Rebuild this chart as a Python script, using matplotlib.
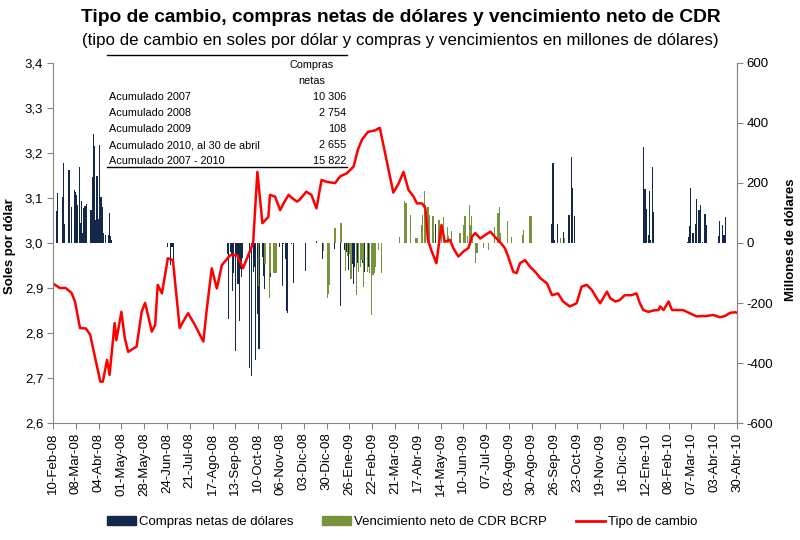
import pandas as pd
import matplotlib
matplotlib.use("Agg")
import matplotlib.pyplot as plt
import matplotlib.dates as mdates
from matplotlib.lines import Line2D
from matplotlib.patches import Patch
from matplotlib.ticker import FuncFormatter, FixedLocator

plt.rcParams['font.family'] = ['Liberation Sans', 'DejaVu Sans']
plt.rcParams['axes.unicode_minus'] = False

# Tipo de cambio (soles por dolar)
tc_fechas = [
    '2008-02-10', '2008-02-18', '2008-02-25', '2008-03-03', '2008-03-07', '2008-03-13',
    '2008-03-20', '2008-03-25', '2008-03-31', '2008-04-06', '2008-04-09', '2008-04-14',
    '2008-04-17', '2008-04-23', '2008-04-25', '2008-05-01', '2008-05-05', '2008-05-09',
    '2008-05-19', '2008-05-25', '2008-05-29', '2008-06-01', '2008-06-06', '2008-06-10',
    '2008-06-13', '2008-06-18', '2008-06-22', '2008-06-25', '2008-07-01', '2008-07-09',
    '2008-07-13', '2008-07-19', '2008-07-27', '2008-08-06', '2008-08-10', '2008-08-16',
    '2008-08-22', '2008-08-28', '2008-09-07', '2008-09-15', '2008-09-22', '2008-09-30',
    '2008-10-04', '2008-10-09', '2008-10-15', '2008-10-22', '2008-10-24', '2008-10-30',
    '2008-11-05', '2008-11-09', '2008-11-15', '2008-11-19', '2008-11-25', '2008-11-28',
    '2008-12-06', '2008-12-12', '2008-12-18', '2008-12-24', '2008-12-30', '2009-01-09',
    '2009-01-15', '2009-01-23', '2009-01-31', '2009-02-05', '2009-02-10', '2009-02-17',
    '2009-02-25', '2009-03-03', '2009-03-11', '2009-03-19', '2009-03-25', '2009-03-31',
    '2009-04-06', '2009-04-12', '2009-04-16', '2009-04-22', '2009-04-26', '2009-04-29',
    '2009-05-03', '2009-05-09', '2009-05-15', '2009-05-19', '2009-05-25', '2009-05-29',
    '2009-06-04', '2009-06-10', '2009-06-16', '2009-06-20', '2009-06-24', '2009-06-30',
    '2009-07-06', '2009-07-12', '2009-07-17', '2009-07-23', '2009-07-29', '2009-08-02',
    '2009-08-08', '2009-08-12', '2009-08-16', '2009-08-22', '2009-08-28', '2009-09-03',
    '2009-09-09', '2009-09-17', '2009-09-23', '2009-09-30', '2009-10-06', '2009-10-14',
    '2009-10-22', '2009-10-28', '2009-11-03', '2009-11-09', '2009-11-15', '2009-11-19',
    '2009-11-27', '2009-12-01', '2009-12-07', '2009-12-12', '2009-12-18', '2009-12-26',
    '2010-01-01', '2010-01-05', '2010-01-09', '2010-01-15', '2010-01-21', '2010-01-27',
    '2010-01-29', '2010-02-02', '2010-02-08', '2010-02-12', '2010-02-18', '2010-02-25',
    '2010-03-05', '2010-03-13', '2010-03-25', '2010-04-02', '2010-04-10', '2010-04-16',
    '2010-04-22', '2010-04-28', '2010-04-30',
]
tc_valores = [
    2.910, 2.900, 2.900, 2.889, 2.870, 2.811,
    2.810, 2.796, 2.744, 2.692, 2.692, 2.740,
    2.707, 2.822, 2.784, 2.847, 2.789, 2.758,
    2.770, 2.847, 2.867, 2.844, 2.803, 2.818,
    2.907, 2.888, 2.933, 2.966, 2.962, 2.811,
    2.825, 2.844, 2.818, 2.781, 2.851, 2.944,
    2.899, 2.951, 2.973, 2.973, 2.944, 2.981,
    3.000, 3.158, 3.044, 3.058, 3.107, 3.103,
    3.073, 3.088, 3.107, 3.100, 3.092, 3.096,
    3.114, 3.107, 3.077, 3.140, 3.136, 3.133,
    3.148, 3.155, 3.170, 3.207, 3.230, 3.247,
    3.250, 3.256, 3.184, 3.112, 3.131, 3.158,
    3.118, 3.103, 3.088, 3.088, 3.077, 3.007,
    2.984, 2.955, 3.040, 3.003, 3.007, 2.989,
    2.970, 2.981, 2.989, 3.014, 3.022, 3.010,
    3.018, 3.025, 3.014, 3.003, 2.989, 2.970,
    2.936, 2.933, 2.955, 2.962, 2.947, 2.936,
    2.922, 2.910, 2.884, 2.888, 2.870, 2.859,
    2.866, 2.903, 2.907, 2.896, 2.877, 2.866,
    2.892, 2.877, 2.870, 2.873, 2.884, 2.884,
    2.888, 2.866, 2.851, 2.847, 2.850, 2.851,
    2.859, 2.851, 2.870, 2.851, 2.851, 2.851,
    2.844, 2.837, 2.838, 2.840, 2.835, 2.838,
    2.845, 2.846, 2.845,
]

# Compras netas de dolares (millones US$)
compras_fechas = [
    '2008-02-14', '2008-02-15', '2008-02-21', '2008-02-22', '2008-02-23', '2008-02-28',
    '2008-02-29', '2008-03-01', '2008-03-03', '2008-03-06', '2008-03-07', '2008-03-09',
    '2008-03-10', '2008-03-12', '2008-03-13', '2008-03-15', '2008-03-16', '2008-03-17',
    '2008-03-19', '2008-03-21', '2008-03-26', '2008-03-28', '2008-03-29', '2008-03-30',
    '2008-04-01', '2008-04-02', '2008-04-04', '2008-04-05', '2008-04-06', '2008-04-07',
    '2008-04-08', '2008-04-10', '2008-04-12', '2008-04-16', '2008-04-17', '2008-04-18',
    '2008-04-19',
    '2008-06-25', '2008-06-28', '2008-06-30', '2008-07-02',
    '2008-09-04', '2008-09-05', '2008-09-07', '2008-09-08', '2008-09-10', '2008-09-11',
    '2008-09-13', '2008-09-14', '2008-09-16', '2008-09-18', '2008-09-19', '2008-09-20',
    '2008-09-21', '2008-09-30', '2008-10-02', '2008-10-04', '2008-10-05', '2008-10-07',
    '2008-10-09', '2008-10-10', '2008-10-11', '2008-10-15', '2008-10-16', '2008-10-17',
    '2008-10-25', '2008-10-29', '2008-11-04', '2008-11-08', '2008-11-09', '2008-11-12',
    '2008-11-13', '2008-11-14', '2008-11-18', '2008-11-21', '2008-12-05', '2008-12-18',
    '2008-12-25', '2009-01-08', '2009-01-15', '2009-01-20', '2009-01-23', '2009-01-25',
    '2009-01-29', '2009-01-31', '2009-02-01', '2009-02-04', '2009-02-11', '2009-02-13',
    '2009-02-18', '2009-02-24',
    '2009-05-08', '2009-09-23', '2009-09-24', '2009-09-26', '2009-09-29', '2009-10-07',
    '2009-10-13', '2009-10-14', '2009-10-16', '2009-10-17', '2009-10-20',
    '2010-01-09', '2010-01-11', '2010-01-12', '2010-01-13', '2010-01-15', '2010-01-16',
    '2010-01-18', '2010-01-20', '2010-01-21',
    '2010-03-03', '2010-03-04', '2010-03-05', '2010-03-06', '2010-03-09', '2010-03-12',
    '2010-03-13', '2010-03-16', '2010-03-18', '2010-03-20', '2010-03-23', '2010-03-25',
    '2010-04-08', '2010-04-09', '2010-04-13', '2010-04-14', '2010-04-15', '2010-04-16',
]
compras_valores = [
    108, 168, 154, 268, 63, 134,
    243, 227, 121, 177, 171, 160,
    127, 254, 66, 141, 32, 116,
    123, 130, 110, 219, 363, 323,
    77, 223, 79, 327, 154, 152,
    121, 32, 27, 27, 99, 23,
    10,
    -15, -75, -15, -110,
    -38, -254, -30, -40, -160, -99,
    -360, -43, -138, -260, -88, -115,
    -50, -416, -443, -98, -80, -390,
    -237, -270, -354, -48, -110, -155,
    -115, -93, -15, -143, -5, -55,
    -227, -232, -5, -132, -93, 5,
    -52, -20, -210, -25, -30, -90,
    -70, -138, -79, -68, -68, -96,
    -79, -90,
    63, 63, 266, 10, 63, 37,
    93, 73, 288, 182, 90,
    321, 180, 170, 113, 27, 173,
    10, 254, 104,
    4, 19, 57, 182, 34, 63,
    147, 110, 127, 4, 97, 60,
    23, 74, 60, 27, 27, 86,
]

# Vencimiento neto de CDR BCRP (millones US$)
cdr_fechas = [
    '2008-10-10', '2008-10-18', '2008-10-23', '2008-10-24', '2008-10-28', '2008-10-30',
    '2008-11-01', '2008-12-26', '2008-12-31', '2009-01-01', '2009-01-02', '2009-01-09',
    '2009-01-16', '2009-01-21', '2009-01-24', '2009-01-26', '2009-01-28', '2009-02-03',
    '2009-02-06', '2009-02-08', '2009-02-10', '2009-02-12', '2009-02-16', '2009-02-19',
    '2009-02-21', '2009-02-23', '2009-02-25', '2009-02-26', '2009-03-01', '2009-03-05',
    '2009-03-26', '2009-04-01', '2009-04-03', '2009-04-08', '2009-04-14', '2009-04-16',
    '2009-04-22', '2009-04-23', '2009-04-25', '2009-04-26', '2009-04-29', '2009-05-01',
    '2009-05-05', '2009-05-12', '2009-05-15', '2009-05-17', '2009-05-22', '2009-05-23',
    '2009-05-27', '2009-06-06', '2009-06-10', '2009-06-12', '2009-06-15', '2009-06-17',
    '2009-06-19', '2009-06-20', '2009-06-21', '2009-06-24', '2009-06-26', '2009-07-04',
    '2009-07-10', '2009-07-17', '2009-07-21', '2009-07-23', '2009-07-24', '2009-08-01',
    '2009-08-06', '2009-08-19', '2009-08-20', '2009-08-27', '2009-08-29', '2009-10-03',
    '2009-10-08',
]
cdr_valores = [
    -143, -71, -182, -99, -99, -99,
    -99, -27, -185, -170, -140, 49,
    66, -93, -45, -38, -121, -173,
    -96, -79, -57, -147, -96, -101,
    -240, -107, -101, -79, -23, -99,
    21, 141, 134, 93, 18, 18,
    60, 93, 173, 126, 121, 93,
    90, 76, 60, 87, 54, 23,
    41, 34, 60, 91, 23, 126,
    60, 90, 15, -67, -34, -18,
    -23, 54, 99, 119, 32, 73,
    20, 27, 43, 90, 90, 15,
    15,
]

meses = ['Ene', 'Feb', 'Mar', 'Abr', 'May', 'Jun',
         'Jul', 'Ago', 'Sep', 'Oct', 'Nov', 'Dic']

tabla_filas = ['Acumulado 2007', 'Acumulado 2008', 'Acumulado 2009',
               'Acumulado 2010, al 30 de abril', 'Acumulado 2007 - 2010']
tabla_valores = ['10 306', '2 754', '108', '2 655', '15 822']

col_compras = '#14284B'
col_cdr = '#77933C'
col_tc = '#FF0000'
col_eje = '#868686'

W, H = 800, 540
fig = plt.figure(figsize=(8, 5.4), dpi=100)
ax = fig.add_axes([53 / W, 1 - 423 / H, (737 - 53) / W, (423 - 63) / H])
ax2 = ax.twinx()

# barras en el eje derecho
ax2.bar(pd.to_datetime(compras_fechas), compras_valores, width=1.4,
        color=col_compras, linewidth=0)
ax2.bar(pd.to_datetime(cdr_fechas), cdr_valores, width=1.4,
        color=col_cdr, linewidth=0)
ax2.set_ylim(-600, 600)
ax2.set_yticks(range(-600, 601, 200))

# linea en el eje izquierdo, por encima de las barras
ax.plot(pd.to_datetime(tc_fechas), tc_valores, color=col_tc, lw=1.8)
ax.set_zorder(ax2.get_zorder() + 1)
ax.patch.set_visible(False)
ax.set_ylim(2.6, 3.4)
ax.set_yticks([2.6, 2.7, 2.8, 2.9, 3.0, 3.1, 3.2, 3.3, 3.4])
ax.yaxis.set_major_formatter(FuncFormatter(lambda v, p: f'{v:.1f}'.replace('.', ',')))

inicio, fin = pd.Timestamp('2008-02-10'), pd.Timestamp('2010-04-30')
ax.set_xlim(inicio, fin)
ticks = pd.date_range(inicio, fin, freq='27D')
ax.xaxis.set_major_locator(FixedLocator(mdates.date2num(ticks)))
ax.set_xticklabels([f'{t.day:02d}-{meses[t.month - 1]}-{t.strftime("%y")}' for t in ticks],
                   rotation=90)

for a in (ax, ax2):
    a.spines['top'].set_visible(False)
    for s in ('left', 'right', 'bottom'):
        a.spines[s].set_color(col_eje)
    a.tick_params(direction='out', length=4, color=col_eje, labelsize=9.5, pad=3)
ax2.spines['left'].set_visible(False)
ax2.spines['bottom'].set_visible(False)

# titulos
fig.text(401 / W, 1 - 18 / H, 'Tipo de cambio, compras netas de dólares y vencimiento neto de CDR',
         ha='center', va='center', fontsize=13.8, fontweight='bold')
fig.text(400 / W, 1 - 40 / H,
         '(tipo de cambio en soles por dólar y compras y vencimientos en millones de dólares)',
         ha='center', va='center', fontsize=12.2)
fig.text(10 / W, 1 - 246 / H, 'Soles por dólar', rotation=90, ha='center', va='center',
         fontsize=9.5, fontweight='bold')
fig.text(791 / W, 1 - 240 / H, 'Millones de dólares', rotation=90, ha='center', va='center',
         fontsize=9.5, fontweight='bold')

# cuadro de compras netas acumuladas
fig.add_artist(Line2D([107 / W, 347 / W], [1 - 55 / H, 1 - 55 / H], color='black', lw=1))
fig.add_artist(Line2D([107 / W, 347 / W], [1 - 167 / H, 1 - 167 / H], color='black', lw=1))
fig.text(312 / W, 1 - 65 / H, 'Compras', ha='center', va='center', fontsize=7.8)
fig.text(312 / W, 1 - 81 / H, 'netas', ha='center', va='center', fontsize=7.8)
for i, (fila, val) in enumerate(zip(tabla_filas, tabla_valores)):
    y = 1 - (97 + i * 16) / H
    fig.text(109 / W, y, fila, ha='left', va='center', fontsize=7.8)
    fig.text(346 / W, y, val, ha='right', va='center', fontsize=7.8)

# leyenda
handles = [Patch(color=col_compras), Patch(color=col_cdr), Line2D([], [], color=col_tc, lw=2)]
fig.legend(handles, ['Compras netas de dólares', 'Vencimiento neto de CDR BCRP', 'Tipo de cambio'],
           loc='center', bbox_to_anchor=(402 / W, 1 - 522 / H), ncol=3, frameon=False,
           fontsize=9.5, handlelength=2.2, handleheight=0.6, columnspacing=2.2, handletextpad=0.2)

fig.savefig('out.png', dpi=100)
